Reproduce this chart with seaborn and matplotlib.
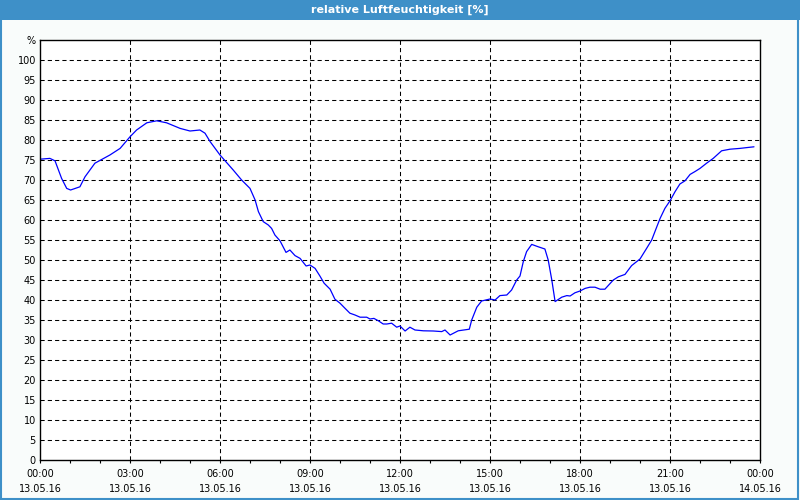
import matplotlib
matplotlib.use("Agg")
import matplotlib.pyplot as plt
import seaborn as sns
import pandas as pd
from matplotlib.patches import Rectangle
from matplotlib.ticker import MultipleLocator

# ---- data ----
hours = [0, 0.33, 0.5, 0.72, 0.89, 1.02, 1.33, 1.5, 1.83, 2.33, 2.67, 3.0, 3.22, 3.56,
         3.89, 4.22, 4.67, 5.0, 5.33, 5.5, 5.67, 6.0, 6.44, 6.72, 7.0, 7.17, 7.28, 7.44,
         7.61, 7.72, 7.83, 8.0, 8.09, 8.2, 8.33, 8.5, 8.67, 8.87, 9.0, 9.17, 9.33, 9.47,
         9.67, 9.83, 10.0, 10.17, 10.33, 10.5, 10.67, 10.89, 11.0, 11.13, 11.28, 11.44,
         11.56, 11.72, 11.89, 12.0, 12.17, 12.33, 12.5, 12.78, 13.11, 13.39, 13.5, 13.67,
         13.94, 14.31, 14.39, 14.56, 14.72, 15.0, 15.17, 15.33, 15.56, 15.72, 15.89, 16.0,
         16.11, 16.22, 16.39, 16.61, 16.83, 16.94, 17.06, 17.17, 17.39, 17.56, 17.67,
         17.83, 18.0, 18.17, 18.33, 18.5, 18.67, 18.83, 19.11, 19.28, 19.5, 19.72, 20.0,
         20.22, 20.39, 20.56, 20.67, 20.83, 21.0, 21.17, 21.33, 21.5, 21.67, 21.83, 22.0,
         22.22, 22.44, 22.72, 23.0, 23.33, 23.56, 23.8]
humidity = [75.2, 75.4, 74.8, 70.4, 67.9, 67.5, 68.3, 70.8, 74.2, 76.25, 77.9, 80.8, 82.5,
            84.3, 84.8, 84.3, 82.9, 82.25, 82.5, 81.7, 79.6, 76.25, 72.5, 70.0, 67.9, 65,
            62.1, 59.6, 58.75, 57.9, 56.25, 54.8, 53.5, 51.9, 52.5, 51.1, 50.4, 48.5, 48.75,
            47.9, 46, 44.2, 42.7, 40.2, 39.2, 37.9, 36.7, 36.25, 35.7, 35.7, 35.25, 35.4,
            34.8, 34.0, 34.0, 34.2, 33.2, 33.5, 32.25, 33.2, 32.5, 32.3, 32.25, 32.1, 32.5,
            31.25, 32.3, 32.7, 35, 38.2, 39.75, 40.25, 40, 41.1, 41.25, 42.5, 45, 46, 49.6,
            52.1, 53.9, 53.3, 52.75, 50, 45, 39.6, 40.7, 41.1, 41, 41.8, 42.25, 42.9, 43.2,
            43.2, 42.7, 42.7, 45, 45.8, 46.4, 48.6, 50.25, 52.9, 55, 58.3, 60.4, 62.9, 64.8,
            67.1, 69, 69.8, 71.4, 72.1, 72.9, 74.2, 75.4, 77.3, 77.7, 77.9, 78.1, 78.3]
tick_hours = [0, 3, 6, 9, 12, 15, 18, 21, 24]
time_labels = ["00:00", "03:00", "06:00", "09:00", "12:00", "15:00", "18:00", "21:00", "00:00"]
date_labels = ["13.05.16"] * 8 + ["14.05.16"]
y_ticks = list(range(0, 101, 5))
title = "relative Luftfeuchtigkeit [%]"
unit = "%"

# ---- style ----
sns.set_style("white")
plt.rcParams["font.family"] = ["DejaVu Sans"]

fig = plt.figure(figsize=(8, 5), dpi=100)
fig.patch.set_facecolor("#f9fcfb")

# title bar and outer border
fig.patches.append(Rectangle((0, 0.96), 1, 0.04, transform=fig.transFigure,
                             facecolor="#3e90c8", edgecolor="none", zorder=0))
fig.patches.append(Rectangle((0.001, 0.002), 0.997, 0.996, transform=fig.transFigure,
                             facecolor="none", edgecolor="#3e90c8", linewidth=1.5, zorder=1))
fig.text(0.5, 0.981, title, color="white", fontsize=8, fontweight="bold",
         ha="center", va="center")

ax = fig.add_axes([0.05, 0.08, 0.90, 0.84])
ax.set_facecolor("white")

df = pd.DataFrame({"h": hours, "rh": humidity})
sns.lineplot(data=df, x="h", y="rh", color="#0000ff", linewidth=0.9, ax=ax, legend=False)

ax.set_xlim(0, 24)
ax.set_ylim(0, 105)

ax.set_yticks(y_ticks + [105])
ax.set_yticklabels([str(v) for v in y_ticks] + [unit], fontsize=7)
ax.set_xticks(tick_hours)
ax.set_xticklabels([f"{t}\n{d}" for t, d in zip(time_labels, date_labels)],
                   fontsize=7, linespacing=1.65)
ax.xaxis.set_minor_locator(MultipleLocator(1))

ax.tick_params(axis="y", length=0, pad=3, colors="black")
ax.tick_params(axis="x", which="both", length=2.5, width=0.8, direction="out",
               pad=4, colors="black", bottom=True)
ax.set_xlabel("")
ax.set_ylabel("")

# grid lines
for v in y_ticks[1:]:
    ax.axhline(v, color="black", linewidth=0.75, linestyle=(0, (4, 3)), zorder=0.5)
for h in tick_hours[1:-1]:
    ax.axvline(h, color="black", linewidth=0.75, linestyle=(0, (4, 3)), zorder=0.5)

for s in ax.spines.values():
    s.set_visible(True)
    s.set_color("black")
    s.set_linewidth(1.0)

fig.savefig("out.png", dpi=100, facecolor=fig.get_facecolor())
